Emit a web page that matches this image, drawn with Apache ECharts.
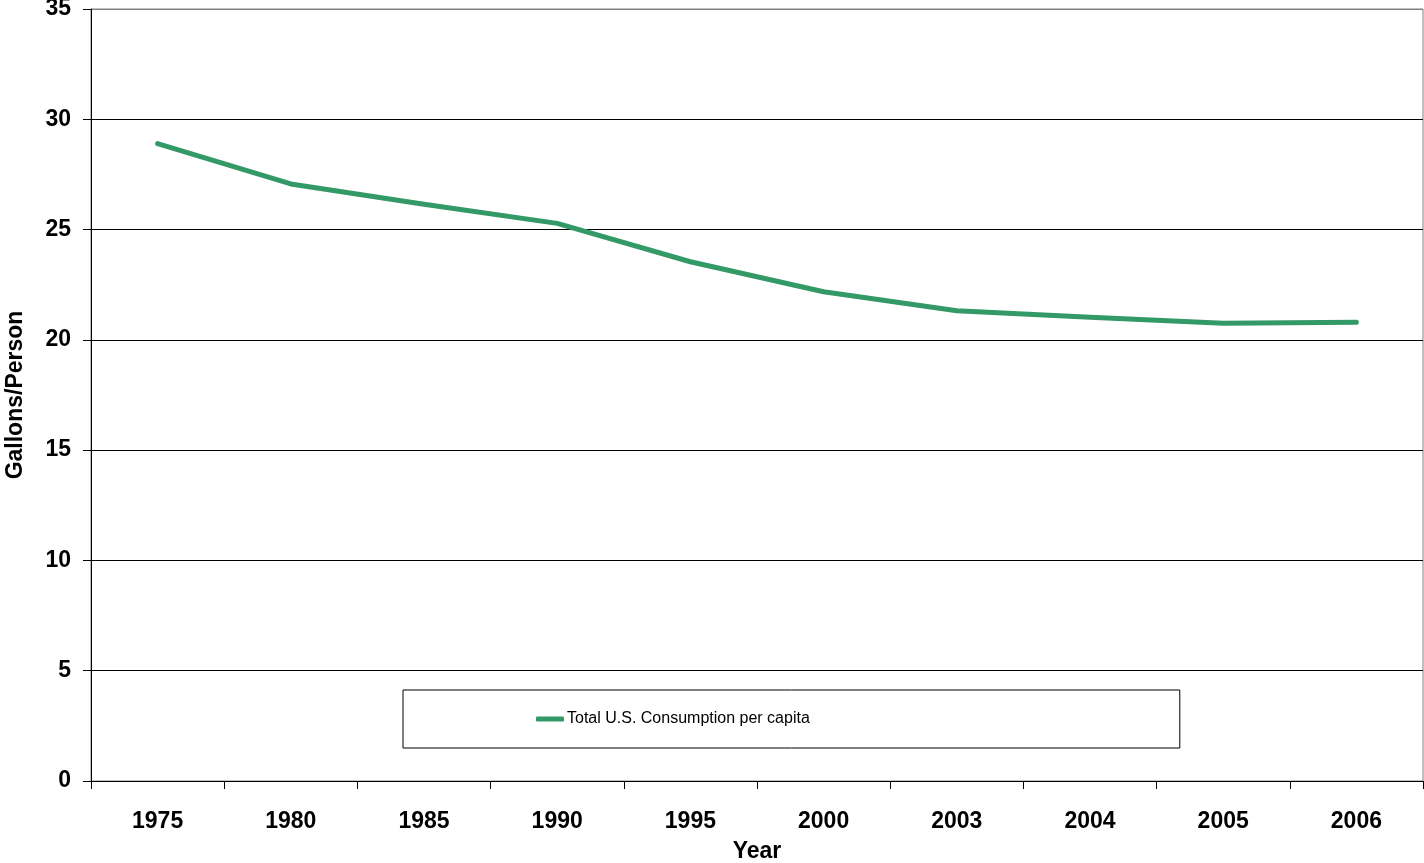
<!DOCTYPE html>
<html>
<head>
<meta charset="utf-8">
<title>Total U.S. Consumption per capita</title>
<script src="https://cdn.jsdelivr.net/npm/echarts@6/dist/echarts.min.js"></script>
<style>
  html, body { margin: 0; padding: 0; background: #fff; }
  #chart { width: 1424px; height: 863px; }
</style>
</head>
<body>
<div id="chart"></div>
<script>
// Years on the category axis
const years = ['1975', '1980', '1985', '1990', '1995', '2000', '2003', '2004', '2005', '2006'];
// Gallons per person
const consumption = [28.9, 27.07, 26.15, 25.28, 23.54, 22.18, 21.32, 21.02, 20.75, 20.8];
const seriesName = 'Total U.S. Consumption per capita';
const yTicks = { min: 0, max: 35, interval: 5 };

const FONT = '"Liberation Sans", Arial, sans-serif';
const axisText = { color: '#000', fontFamily: FONT, fontWeight: 'bold', fontSize: 23 };

const chart = echarts.init(document.getElementById('chart'), null, { renderer: 'canvas' });

// gridlines are black, the top one coincides with the grey plot frame
const gridColors = [];
for (let v = yTicks.min; v <= yTicks.max; v += yTicks.interval) {
  gridColors.push(v === yTicks.max ? '#808080' : '#000');
}

chart.setOption({
  animation: false,
  backgroundColor: '#fff',
  grid: {
    left: 91, right: 1, top: 9, bottom: 82,
    outerBoundsMode: 'none',
    containLabel: false,
    show: true, borderColor: '#808080', borderWidth: 1, backgroundColor: 'transparent'
  },
  legend: {
    data: [seriesName],
    left: 403, top: 690,
    padding: [20, 370, 20, 133],
    borderColor: '#000', borderWidth: 1,
    icon: 'roundRect',
    itemWidth: 28, itemHeight: 5, itemGap: 0,
    itemStyle: { color: '#339966' },
    textStyle: { color: '#000', fontFamily: FONT, fontSize: 16, lineHeight: 18, padding: [0, 0, 0, -2] }
  },
  xAxis: {
    type: 'category',
    data: years,
    boundaryGap: true,
    name: 'Year',
    nameLocation: 'middle',
    nameGap: 59,
    nameTextStyle: axisText,
    axisLine: { lineStyle: { color: '#000', width: 1 } },
    axisTick: { show: true, interval: 0, length: 8, lineStyle: { color: '#000' } },
    axisLabel: Object.assign({ interval: 0, margin: 29 }, axisText),
    splitLine: { show: false }
  },
  yAxis: {
    type: 'value',
    min: yTicks.min, max: yTicks.max, interval: yTicks.interval,
    name: 'Gallons/Person',
    nameLocation: 'middle',
    nameRotate: 90,
    nameGap: 64,
    nameTextStyle: axisText,
    axisLine: { show: true, lineStyle: { color: '#000', width: 1 } },
    axisTick: { show: true, length: 8, lineStyle: { color: '#000' } },
    axisLabel: Object.assign({ margin: 20 }, axisText),
    splitLine: { show: true, lineStyle: { color: gridColors, width: 1 } }
  },
  series: [{
    name: seriesName,
    type: 'line',
    data: consumption,
    symbol: 'none',
    lineStyle: { color: '#339966', width: 5, cap: 'round', join: 'round' },
    itemStyle: { color: '#339966' }
  }]
});
</script>
</body>
</html>
